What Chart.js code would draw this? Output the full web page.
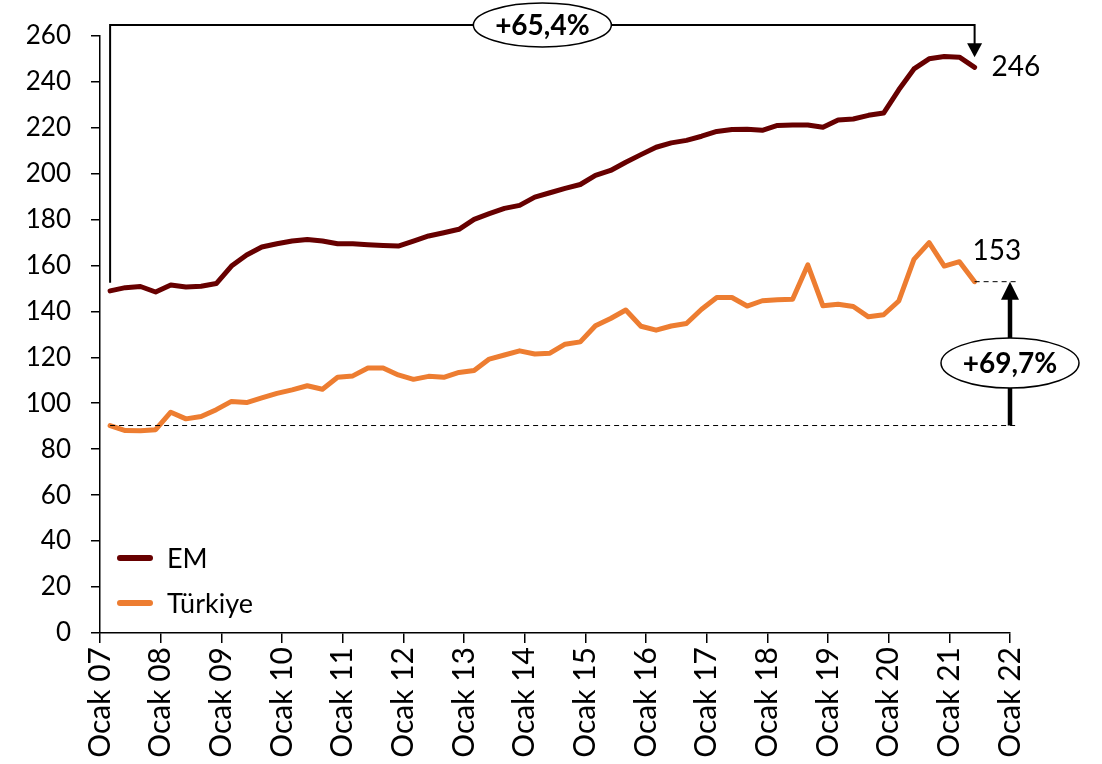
<!DOCTYPE html>
<html>
<head>
<meta charset="utf-8">
<script src="https://cdn.jsdelivr.net/npm/chart.js@4/dist/chart.umd.min.js"></script>
<style>
  html, body { margin: 0; padding: 0; background: #fff; }
  #wrap { width: 1102px; height: 764px; }
</style>
</head>
<body>
<div id="wrap"><canvas id="chart" width="1102" height="764"></canvas></div>
<script>
// ===== DATA (çeyreklik, ay başı) =====
const quarters = [
  '2007-03','2007-06','2007-09','2007-12','2008-03','2008-06','2008-09','2008-12',
  '2009-03','2009-06','2009-09','2009-12','2010-03','2010-06','2010-09','2010-12',
  '2011-03','2011-06','2011-09','2011-12','2012-03','2012-06','2012-09','2012-12',
  '2013-03','2013-06','2013-09','2013-12','2014-03','2014-06','2014-09','2014-12',
  '2015-03','2015-06','2015-09','2015-12','2016-03','2016-06','2016-09','2016-12',
  '2017-03','2017-06','2017-09','2017-12','2018-03','2018-06','2018-09','2018-12',
  '2019-03','2019-06','2019-09','2019-12','2020-03','2020-06','2020-09','2020-12',
  '2021-03','2021-06'
];

const emValues = [
  148.9, 150.3, 150.8, 148.4, 151.5, 150.6, 150.9, 152.1,
  159.7, 164.5, 168.0, 169.4, 170.6, 171.3, 170.6, 169.4,
  169.4, 169.0, 168.7, 168.4, 170.6, 172.8, 174.2, 175.7,
  180.0, 182.5, 184.8, 186.1, 189.7, 191.6, 193.5, 195.2,
  199.2, 201.3, 204.9, 208.2, 211.4, 213.3, 214.4, 216.2,
  218.3, 219.1, 219.2, 218.8, 220.9, 221.1, 221.1, 220.1,
  223.3, 223.7, 225.3, 226.3, 236.4, 245.5, 249.9, 250.9,
  250.6, 246.2
];

const trValues = [
  90.3, 88.1, 88.0, 88.5, 96.1, 93.2, 94.2, 97.2,
  100.8, 100.3, 102.3, 104.3, 105.8, 107.6, 106.1, 111.3,
  111.9, 115.3, 115.3, 112.3, 110.4, 111.7, 111.3, 113.4,
  114.2, 119.2, 121.0, 122.8, 121.4, 121.8, 125.7, 126.7,
  133.7, 136.9, 140.6, 133.5, 131.8, 133.6, 134.7, 140.9,
  146.0, 146.0, 142.3, 144.6, 145.0, 145.3, 160.2, 142.4,
  143.1, 142.1, 137.6, 138.5, 144.5, 162.6, 169.9, 159.7,
  161.6, 152.9
];

const seriesNames = ['EM', 'Türkiye'];
const yTicks = [0, 20, 40, 60, 80, 100, 120, 140, 160, 180, 200, 220, 240, 260];
const xYears = [2007, 2022];
const emChangeText = '+65,4%';
const trChangeText = '+69,7%';

const FONT = 'Lato, "Open Sans", sans-serif';
const EM_COLOR = '#670000';
const TR_COLOR = '#ED7D31';

// tarih -> ondalık yıl (ay başı)
function toYear(q) {
  const [y, m] = q.split('-').map(Number);
  return y + (m - 1) / 12;
}
const xs = quarters.map(toYear);
const emData = xs.map((x, i) => ({ x, y: emValues[i] }));
const trData = xs.map((x, i) => ({ x, y: trValues[i] }));

// ===== ANNOTATION PLUGIN =====
function arrowHead(ctx, x, tipY, baseY, w) {
  ctx.beginPath();
  ctx.moveTo(x, tipY);
  ctx.lineTo(x - w / 2, baseY);
  ctx.lineTo(x + w / 2, baseY);
  ctx.closePath();
  ctx.fill();
}

function bubble(ctx, cx, cy, rx, ry, text) {
  ctx.beginPath();
  ctx.ellipse(cx, cy, rx, ry, 0, 0, Math.PI * 2);
  ctx.fillStyle = '#fff';
  ctx.fill();
  ctx.lineWidth = 1.5;
  ctx.strokeStyle = '#000';
  ctx.stroke();
  ctx.fillStyle = '#000';
  ctx.font = 'bold 28px ' + FONT;
  ctx.textAlign = 'center';
  ctx.textBaseline = 'middle';
  ctx.fillText(text, cx, cy + 1);
}

const annotations = {
  id: 'annotations',
  afterDraw(chart) {
    const { ctx, scales: { x, y } } = chart;
    const last = xs.length - 1;
    const x0 = x.getPixelForValue(xs[0]);
    const x1 = x.getPixelForValue(xs[last]);
    const xr = x.getPixelForValue(xYears[1]);

    ctx.save();

    // --- EM bracket ---
    const emTop = 25;
    const emStart = y.getPixelForValue(emValues[0]) - 8;
    const emEnd = y.getPixelForValue(emValues[last]);
    ctx.strokeStyle = '#000';
    ctx.fillStyle = '#000';
    ctx.lineWidth = 2;
    ctx.beginPath();
    ctx.moveTo(x0, emStart);
    ctx.lineTo(x0, emTop);
    ctx.lineTo(x1, emTop);
    ctx.lineTo(x1, emEnd - 22);
    ctx.stroke();
    arrowHead(ctx, x1, emEnd - 10, emEnd - 24, 15);
    bubble(ctx, (x0 + x1) / 2, emTop, 69, 22, emChangeText);

    // --- Türkiye dashed lines ---
    const trStartY = y.getPixelForValue(trValues[0]);
    const trEndY = y.getPixelForValue(trValues[last]);
    ctx.strokeStyle = '#000';
    ctx.lineWidth = 1;
    ctx.setLineDash([5, 4]);
    ctx.beginPath();
    ctx.moveTo(x0, trStartY);
    ctx.lineTo(xr + 8, trStartY);
    ctx.moveTo(x1, trEndY);
    ctx.lineTo(xr + 7, trEndY);
    ctx.stroke();
    ctx.setLineDash([]);

    // --- Türkiye arrow ---
    ctx.lineWidth = 4.5;
    ctx.beginPath();
    ctx.moveTo(xr, trStartY);
    ctx.lineTo(xr, trEndY + 16);
    ctx.stroke();
    ctx.fillStyle = '#000';
    arrowHead(ctx, xr, trEndY, trEndY + 18, 18);
    bubble(ctx, xr, y.getPixelForValue(117.5), 69, 25, trChangeText);

    // --- son değer etiketleri ---
    ctx.fillStyle = '#000';
    ctx.font = '28px ' + FONT;
    ctx.textAlign = 'left';
    ctx.textBaseline = 'middle';
    ctx.fillText(Math.round(emValues[last]), x1 + 17, emEnd);
    ctx.fillText(Math.round(trValues[last]), x1 - 2, trEndY - 31);

    // --- legend ---
    const colors = [EM_COLOR, TR_COLOR];
    const legY = [558, 603];
    ctx.font = '27px ' + FONT;
    ctx.lineCap = 'round';
    ctx.lineWidth = 6;
    seriesNames.forEach((name, i) => {
      ctx.strokeStyle = colors[i];
      ctx.beginPath();
      ctx.moveTo(120, legY[i]);
      ctx.lineTo(150, legY[i]);
      ctx.stroke();
      ctx.fillStyle = '#000';
      ctx.fillText(name, 167, legY[i] + 1);
    });

    ctx.restore();
  }
};

// ===== CHART =====
const ctx = document.getElementById('chart').getContext('2d');

new Chart(ctx, {
  type: 'line',
  data: {
    datasets: [
      {
        label: seriesNames[0],
        data: emData,
        borderColor: EM_COLOR,
        borderWidth: 5,
        borderCapStyle: 'round',
        borderJoinStyle: 'round',
        pointRadius: 0,
        tension: 0,
        fill: false,
      },
      {
        label: seriesNames[1],
        data: trData,
        borderColor: TR_COLOR,
        borderWidth: 5,
        borderCapStyle: 'round',
        borderJoinStyle: 'round',
        pointRadius: 0,
        tension: 0,
        fill: false,
      },
    ],
  },
  options: {
    responsive: false,
    animation: false,
    layout: { padding: { top: 33, right: 92, left: 0, bottom: 0 } },
    plugins: {
      legend: { display: false },
      tooltip: { enabled: false },
    },
    scales: {
      x: {
        type: 'linear',
        min: xYears[0],
        max: xYears[1],
        afterBuildTicks: (scale) => {
          const t = [];
          for (let v = xYears[0]; v <= xYears[1]; v++) t.push({ value: v });
          scale.ticks = t;
        },
        afterFit: (scale) => { scale.height = 131; },
        ticks: {
          autoSkip: false,
          minRotation: 90,
          maxRotation: 90,
          padding: 4,
          color: '#000',
          font: { family: FONT, size: 30 },
          callback: (v) => 'Ocak ' + String(v).slice(2),
        },
        grid: {
          drawOnChartArea: false,
          drawTicks: true,
          tickLength: 10,
          color: '#000',
          lineWidth: 1.5,
        },
        border: { color: '#000', width: 1.5 },
      },
      y: {
        min: 0,
        max: 260,
        afterBuildTicks: (scale) => { scale.ticks = yTicks.map(v => ({ value: v })); },
        afterFit: (scale) => { scale.width = 100; },
        ticks: {
          padding: 20,
          color: '#000',
          font: { family: FONT, size: 26 },
        },
        grid: {
          drawOnChartArea: false,
          drawTicks: true,
          tickLength: 9,
          color: '#000',
          lineWidth: 1.5,
        },
        border: { color: '#000', width: 1.5 },
      },
    },
  },
  plugins: [annotations],
});
</script>
</body>
</html>
